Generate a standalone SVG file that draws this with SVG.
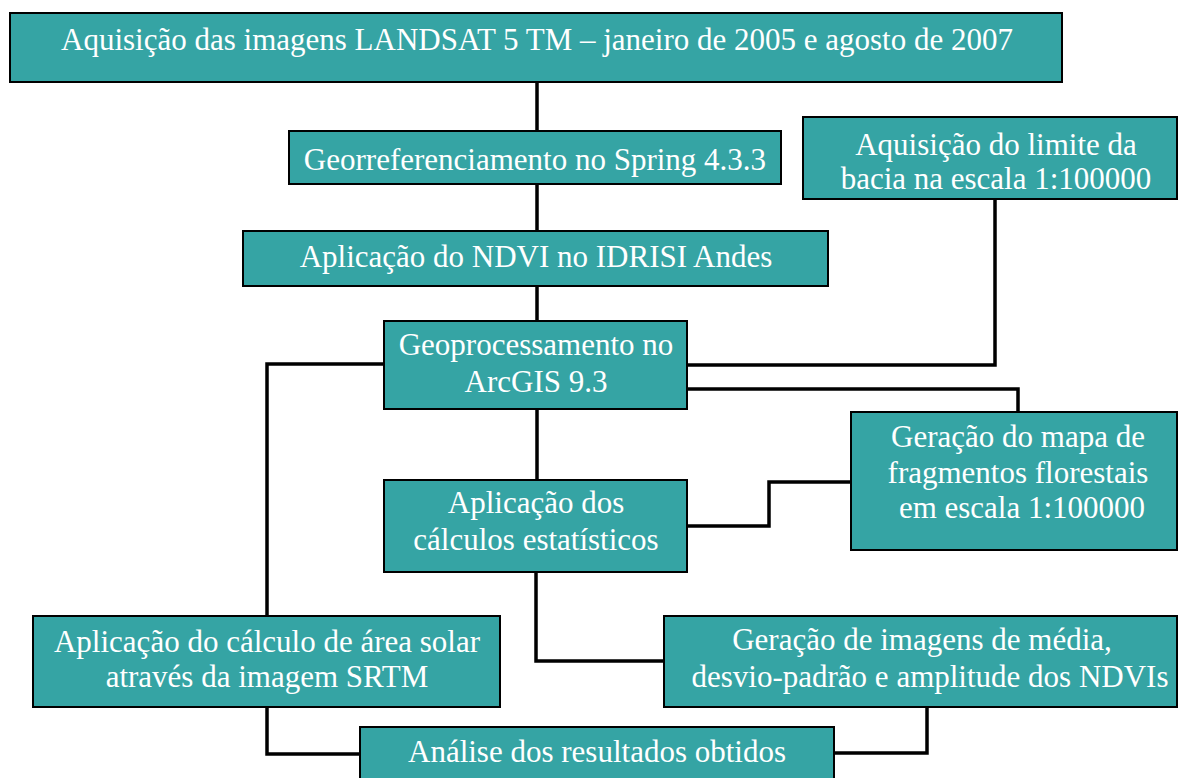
<svg xmlns="http://www.w3.org/2000/svg" width="1178" height="778" viewBox="0 0 1178 778">
<style>
.box{fill:#35a4a4;stroke:#000;stroke-width:2}
text{font-family:'Liberation Serif','Times New Roman',serif;font-size:31px;fill:#fff;text-anchor:middle}
.c{fill:none;stroke:#000;stroke-width:3.5;stroke-linejoin:miter}
</style>
<rect width="1178" height="778" fill="#fff"/>
<g id="connectors">
<path class="c" d="M537,82 V131 M537,184 V231 M537,286 V321 M537,409 V480"/>
<path class="c" d="M384,364 H267 V616 M267,707 V754 H360"/>
<path class="c" d="M687,365 H995 V199"/>
<path class="c" d="M687,389 H1018 V412"/>
<path class="c" d="M687,526 H769 V482 H851"/>
<path class="c" d="M536,572 V661 H664"/>
<path class="c" d="M834,753 H927 V707"/>
</g>
<g id="n1"><rect class="box" x="10" y="13" width="1052" height="69"/><text x="537" y="50">Aquisição das imagens LANDSAT 5 TM – janeiro de 2005 e agosto de 2007</text></g>
<g id="n2"><rect class="box" x="289" y="131" width="492" height="53"/><text x="535" y="170">Georreferenciamento no Spring 4.3.3</text></g>
<g id="n3"><rect class="box" x="803" y="117" width="374" height="82"/><text x="996" y="155">Aquisição do limite da</text><text x="996" y="189">bacia na escala 1:100000</text></g>
<g id="n4"><rect class="box" x="243" y="231" width="585" height="55"/><text x="536" y="267">Aplicação do NDVI no IDRISI Andes</text></g>
<g id="n5"><rect class="box" x="384" y="321" width="303" height="88"/><text x="536" y="355">Geoprocessamento no</text><text x="536" y="392">ArcGIS 9.3</text></g>
<g id="n6"><rect class="box" x="851" y="412" width="326" height="138"/><text x="1018" y="447">Geração do mapa de</text><text x="1018" y="483">fragmentos florestais</text><text x="1022" y="518">em escala 1:100000</text></g>
<g id="n7"><rect class="box" x="384" y="480" width="303" height="92"/><text x="536" y="513">Aplicação dos</text><text x="536" y="550">cálculos estatísticos</text></g>
<g id="n8"><rect class="box" x="33" y="616" width="467" height="91"/><text x="267" y="652">Aplicação do cálculo de área solar</text><text x="267" y="687">através da imagem SRTM</text></g>
<g id="n9"><rect class="box" x="664" y="616" width="513" height="91"/><text x="922" y="650">Geração de imagens de média,</text><text x="930" y="687">desvio-padrão e amplitude dos NDVIs</text></g>
<g id="n10"><rect class="box" x="360" y="727" width="474" height="60"/><text x="597" y="762">Análise dos resultados obtidos</text></g>
</svg>
